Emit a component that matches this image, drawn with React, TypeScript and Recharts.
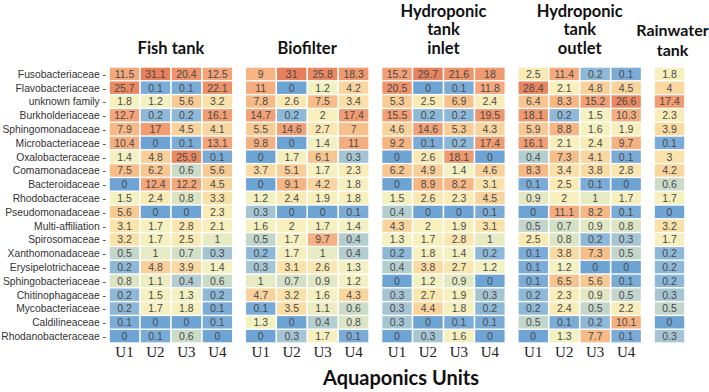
import React from 'react';
import { ScatterChart, Scatter, XAxis, YAxis } from 'recharts';

const families = [
  'Fusobacteriaceae', 'Flavobacteriaceae', 'unknown family', 'Burkholderiaceae',
  'Sphingomonadaceae', 'Microbacteriaceae', 'Oxalobacteraceae', 'Comamonadaceae',
  'Bacteroidaceae', 'Rhodobacteraceae', 'Pseudomonadaceae', 'Multi-affiliation',
  'Spirosomaceae', 'Xanthomonadaceae', 'Erysipelotrichaceae', 'Sphingobacteriaceae',
  'Chitinophagaceae', 'Mycobacteriaceae', 'Caldilineaceae', 'Rhodanobacteraceae',
];

const panelTitles = [
  ['Fish tank'],
  ['Biofilter'],
  ['Hydroponic', 'tank', 'inlet'],
  ['Hydroponic', 'tank', 'outlet'],
  ['Rainwater', 'tank'],
];

const unitLabels = ['U1', 'U2', 'U3', 'U4'];

const fishTank = [
  [11.5, 31.1, 20.4, 12.5], [25.7, 0.1, 0.1, 22.1], [1.8, 1.2, 5.6, 3.2], [12.7, 0.2, 0.2, 16.1],
  [7.9, 17, 4.5, 4.1], [10.4, 0, 0.1, 13.1], [1.4, 4.8, 25.9, 0.1], [7.5, 6.2, 0.6, 5.6],
  [0, 12.4, 12.2, 4.5], [1.5, 2.4, 0.8, 3.3], [5.6, 0, 0, 2.3], [3.1, 1.7, 2.8, 2.1],
  [3.2, 1.7, 2.5, 1], [0.5, 1, 0.7, 0.3], [0.2, 4.8, 3.9, 1.4], [0.8, 1.1, 0.4, 0.6],
  [0.2, 1.5, 1.3, 0.2], [0.2, 1.7, 1.8, 0.1], [0.1, 0, 0, 0.1], [0, 0.1, 0.6, 0],
];

const biofilter = [
  [9, 31, 25.8, 18.3], [11, 0, 1.2, 4.2], [7.8, 2.6, 7.5, 3.4], [14.7, 0.2, 2, 17.4],
  [5.5, 14.6, 2.7, 7], [9.8, 0, 1.4, 11], [0, 1.7, 6.1, 0.3], [3.7, 5.1, 1.7, 2.3],
  [0, 9.1, 4.2, 1.8], [1.2, 2.4, 1.9, 1.8], [0.3, 0, 0, 0.1], [1.6, 2, 1.7, 1.4],
  [0.5, 1.7, 9.7, 0.4], [0.2, 1.7, 1, 0.4], [0.3, 3.1, 2.6, 1.3], [1, 0.7, 0.9, 1.2],
  [4.7, 3.2, 1.6, 4.3], [0.1, 3.5, 1.1, 0.6], [1.3, 0, 0.4, 0.8], [0, 0.3, 1.7, 0.1],
];

const hydroInlet = [
  [15.2, 29.7, 21.6, 18], [20.5, 0, 0.1, 11.8], [5.3, 2.5, 6.9, 2.4], [15.5, 0.2, 0.2, 19.5],
  [4.6, 14.6, 5.3, 4.3], [9.2, 0.1, 0.2, 17.4], [0, 2.6, 18.1, 0], [6.2, 4.9, 1.4, 4.6],
  [0, 8.9, 8.2, 3.1], [1.5, 2.6, 2.3, 4.5], [0.4, 0, 0, 0.1], [4.3, 2, 1.9, 3.1],
  [1.3, 1.7, 2.8, 1], [0.2, 1.8, 1.4, 0.2], [0.4, 3.8, 2.7, 1.2], [0, 1.2, 0.9, 0],
  [0.3, 2.7, 1.9, 0.3], [0.3, 4.4, 1.8, 0.2], [0.3, 0, 0.1, 0.1], [0, 0.3, 1.6, 0],
];

const hydroOutlet = [
  [2.5, 11.4, 0.2, 0.1], [28.4, 2.1, 4.8, 4.5], [6.4, 8.3, 15.2, 26.6], [18.1, 0.2, 1.5, 10.3],
  [5.9, 8.8, 1.6, 1.9], [16.1, 2.1, 2.4, 9.7], [0.4, 7.3, 4.1, 0.1], [8.3, 3.4, 3.8, 2.8],
  [0.1, 2.5, 0.1, 0], [0.9, 2, 1, 1.7], [0, 11.1, 8.2, 0.1], [0.5, 0.7, 0.9, 0.8],
  [2.5, 0.8, 0.2, 0.3], [0.1, 3.8, 7.3, 0.5], [0.1, 1.2, 0, 0], [0.1, 6.5, 5.6, 0.1],
  [0.2, 2.3, 0.9, 0.5], [0.2, 2.4, 0.5, 2.2], [0.5, 0.1, 0.2, 10.1], [0, 1.3, 7.7, 0.1],
];

const rainwaterTank = [
  [1.8], [4], [17.4], [2.3], [3.9], [0.1], [3], [4.2], [0.6], [1.7],
  [0], [3.2], [1.7], [0.2], [0.2], [0.2], [0.3], [0.5], [0], [0.3],
];

const panels = [fishTank, biofilter, hydroInlet, hydroOutlet, rainwaterTank];

// layout constants
const W = 709;
const H = 392;
const PLOT_LEFT = 109;
const PLOT_RIGHT = 685;
const PLOT_TOP = 67;
const PLOT_BOTTOM = 343;
const PANEL_STEP = 4.4;
const X_MAX = 18.6;
const CELL_W = (PLOT_RIGHT - PLOT_LEFT) / X_MAX;
const CELL_H = (PLOT_BOTTOM - PLOT_TOP) / families.length;

const colStops: [number, string][] = [
  [0, '#6ea4d4'],
  [0.1, '#7aacd7'],
  [0.2, '#8eb8d7'],
  [0.3, '#a5c5d4'],
  [0.5, '#c2d6cb'],
  [0.8, '#dbe5c3'],
  [1.2, '#f1f1c2'],
  [2, '#f8f0bc'],
  [3, '#fae3aa'],
  [5, '#f9ce97'],
  [8, '#f6b985'],
  [12, '#f4a77b'],
  [20, '#ef956b'],
  [31, '#e7805a'],
];

function hexToRgb(h: string) {
  return [parseInt(h.slice(1, 3), 16), parseInt(h.slice(3, 5), 16), parseInt(h.slice(5, 7), 16)];
}

function colorFor(v: number) {
  if (v <= colStops[0][0]) return colStops[0][1];
  for (let i = 1; i < colStops.length; i++) {
    if (v <= colStops[i][0]) {
      const [v0, c0] = colStops[i - 1];
      const [v1, c1] = colStops[i];
      const t = (v - v0) / (v1 - v0);
      const a = hexToRgb(c0);
      const b = hexToRgb(c1);
      const m = a.map((x, k) => Math.round(x + (b[k] - x) * t));
      return `rgb(${m[0]},${m[1]},${m[2]})`;
    }
  }
  return colStops[colStops.length - 1][1];
}

const cells: { x: number; y: number; v: number }[] = [];
panels.forEach((panel, p) => {
  panel.forEach((row, r) => {
    row.forEach((v, c) => {
      cells.push({ x: p * PANEL_STEP + c + 0.5, y: r + 0.5, v });
    });
  });
});

const unitTicks: number[] = [];
for (let p = 0; p < 4; p++) for (let c = 0; c < 4; c++) unitTicks.push(p * PANEL_STEP + c + 0.5);

const panelCenters = [2, 2 + PANEL_STEP, 2 + 2 * PANEL_STEP, 2 + 3 * PANEL_STEP, 4 * PANEL_STEP + 0.5];
const titleAnchors = panelCenters.map((x) => ({ x, y: 0.5 }));
const rowTicks = families.map((_, i) => i + 0.5);

const CellShape = (props: any) => {
  const { cx, cy, payload } = props;
  if (cx == null || cy == null) return null;
  const w = CELL_W - 1.6;
  const h = CELL_H - 1.4;
  return (
    <g>
      <rect x={cx - w / 2} y={cy - h / 2} width={w} height={h} fill={colorFor(payload.v)} />
      <text
        x={cx}
        y={cy + 3.8}
        textAnchor="middle"
        fontSize={10.5}
        fontFamily="'Liberation Sans', Arial, sans-serif"
        fill="#4a4a4a"
      >
        {String(payload.v)}
      </text>
    </g>
  );
};

const NoShape = () => <g />;

const TitleTick = (props: any) => {
  const { x, index } = props;
  const lines = panelTitles[index] || [];
  const isRain = lines.length === 2;
  const lineGap = isRain ? 20 : 18.25;
  const lastBase = isRain ? 56 : 53.5;
  return (
    <g>
      {lines.map((ln, i) => (
        <text
          key={i}
          x={x + (isRain ? 3 : 0)}
          y={lastBase - (lines.length - 1 - i) * lineGap}
          textAnchor="middle"
          fontSize={isRain ? 16 : 16.5}
          fontWeight={700}
          fontFamily="Lato, 'Open Sans', sans-serif"
          fill="#111"
        >
          {ln}
        </text>
      ))}
    </g>
  );
};

const RowTick = (props: any) => {
  const { x, y, payload } = props;
  return (
    <text
      x={x}
      y={y + 3.8}
      textAnchor="end"
      fontSize={10.3}
      fontFamily="'Liberation Sans', Arial, sans-serif"
      fill="#333"
    >
      {families[Math.floor(payload.value)] + ' -'}
    </text>
  );
};

export default function App() {
  return (
    <div style={{ position: 'absolute', left: 0, top: 0, width: W, height: H, background: '#fff' }}>
      <ScatterChart width={W} height={H} margin={{ top: 0, right: W - PLOT_RIGHT, bottom: 0, left: 0 }}>
        <XAxis
          xAxisId="top"
          orientation="top"
          type="number"
          dataKey="x"
          domain={[0, X_MAX]}
          ticks={panelCenters}
          interval={0}
          height={PLOT_TOP}
          axisLine={false}
          tickLine={false}
          tick={<TitleTick />}
        />
        <XAxis
          xAxisId="bottom"
          type="number"
          dataKey="x"
          domain={[0, X_MAX]}
          ticks={unitTicks}
          interval={0}
          height={H - PLOT_BOTTOM}
          axisLine={false}
          tickLine={false}
          tickSize={0}
          tickMargin={3}
          tickFormatter={(_v: number, i: number) => unitLabels[i % 4]}
          tick={{ fontSize: 15, fontFamily: "'Liberation Serif', 'Times New Roman', serif", fill: '#222' }}
          label={{
            value: 'Aquaponics Units',
            position: 'insideBottom',
            offset: 7,
            dx: 4,
            style: { fontSize: 20, fontWeight: 700, fontFamily: "Lato, 'Open Sans', sans-serif", fill: '#111' },
          }}
        />
        <YAxis
          type="number"
          dataKey="y"
          domain={[0, families.length]}
          reversed
          ticks={rowTicks}
          interval={0}
          width={PLOT_LEFT}
          axisLine={false}
          tickLine={false}
          tickSize={0}
          tickMargin={3}
          tick={<RowTick />}
        />
        <Scatter
          data={titleAnchors}
          xAxisId="top"
          shape={<NoShape />}
          isAnimationActive={false}
        />
        <Scatter
          data={cells}
          xAxisId="bottom"
          shape={<CellShape />}
          isAnimationActive={false}
        />
      </ScatterChart>
    </div>
  );
}
